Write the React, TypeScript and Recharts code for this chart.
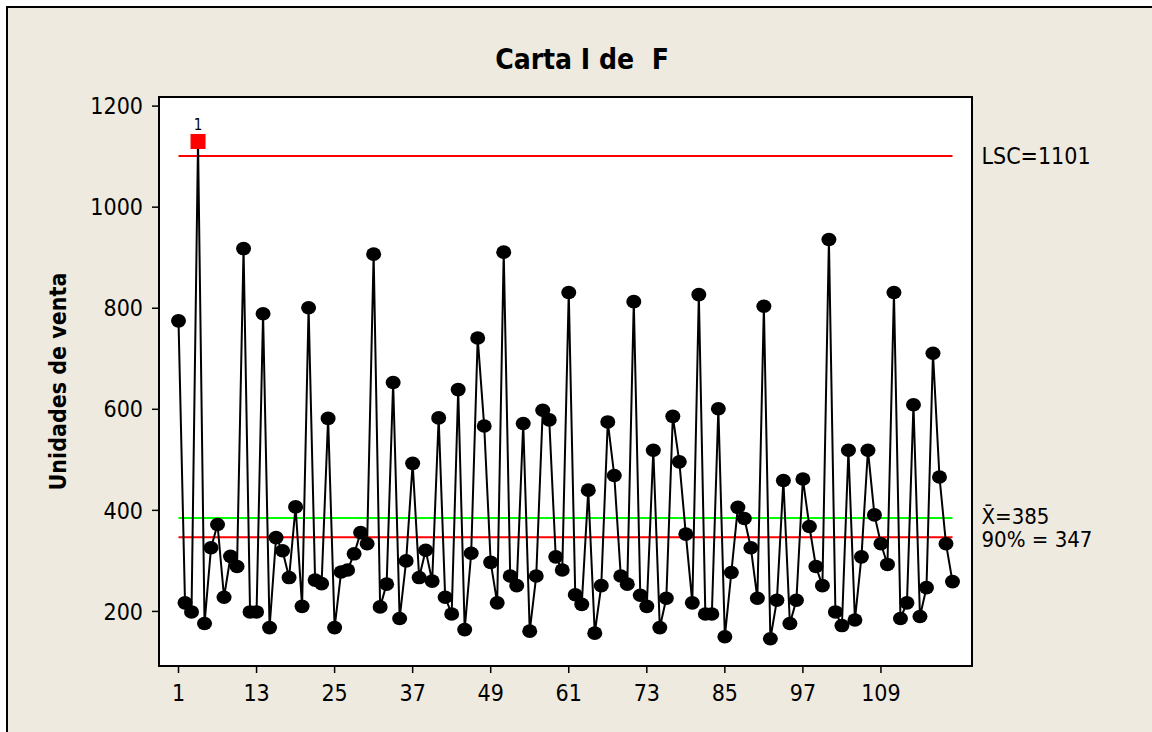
import React from 'react';
import { LineChart, Line, XAxis, YAxis, ReferenceLine } from 'recharts';

// ---- data ----
const values: number[] = [
  775, 217, 199, 1130, 176, 326, 372, 228, 309, 289,
  918, 199, 199, 789, 168, 346, 320, 267, 407, 210,
  801, 262, 255, 582, 168, 278, 282, 314, 356, 334,
  907, 209, 254, 653, 186, 300, 493, 267, 321, 260,
  583, 228, 195, 639, 164, 315, 741, 567, 297, 217,
  911, 270, 251, 572, 161, 270, 598, 579, 308, 282,
  831, 233, 214, 440, 157, 251, 575, 469, 270, 254,
  813, 232, 210, 519, 168, 226, 586, 496, 353, 217,
  827, 195, 195, 601, 150, 277, 406, 384, 326, 226,
  804, 146, 222, 459, 176, 222, 462, 368, 289, 251,
  936, 199, 172, 519, 183, 308, 519, 391, 334, 293,
  831, 186, 217, 609, 190, 247, 711, 466, 334, 259,
];
const xTicks = [1, 13, 25, 37, 49, 61, 73, 85, 97, 109];
const yTicks = [200, 400, 600, 800, 1000, 1200];
const ucl = 1101;
const mean = 385;
const p90 = 347;
const uclLabel = 'LSC=1101';
const meanLabel = 'X\u0304=385';
const p90Label = '90% = 347';
const title = 'Carta I de  F';
const yTitle = 'Unidades de venta';
const flagLabel = '1';

const data = values.map((v, i) => ({ obs: i + 1, value: v }));
const firstObs = 1;
const lastObs = values.length;

const FONT = "'DejaVu Sans Condensed', 'DejaVu Sans', sans-serif";
const BG = '#EEEADF';

const W = 1152;
const H = 732;
const PLOT_L = 159;
const PLOT_T = 97;
const PLOT_R = 972;
const PLOT_B = 666;
const Y_AXIS_W = 80;
const X_AXIS_H = 40;

const renderDot = (props: any) => {
  const { cx, cy, index, payload } = props;
  if (cx == null || cy == null) return <g key={`d-${index}`} />;
  if (payload.value > ucl) {
    return (
      <g key={`d-${index}`}>
        <rect x={cx - 7} y={cy - 7} width={14} height={14} fill="#FF0000" stroke="#FF0000" />
        <text x={cx} y={cy - 11} textAnchor="middle" fontSize={15} fontFamily={FONT} fill="#000">
          {flagLabel}
        </text>
      </g>
    );
  }
  return <ellipse key={`d-${index}`} cx={cx} cy={cy} rx={7.5} ry={6.8} fill="#000" />;
};

const sideLabel = (text: string, shift: number, size: number) => (props: any) => {
  const vb = props.viewBox || {};
  const x = (vb.x ?? 0) + (vb.width ?? 0) + 29;
  const y = (vb.y ?? 0) + (vb.height ?? 0) / 2 + shift;
  return (
    <text x={x} y={y} dy="0.36em" fontSize={size} fontFamily={FONT} fill="#000">
      {text}
    </text>
  );
};

const yAxisTitle = (props: any) => {
  const vb = props.viewBox || {};
  const x = (vb.x ?? 0) - 21;
  const y = (vb.y ?? 0) + (vb.height ?? 0) / 2;
  return (
    <text
      x={x}
      y={y}
      transform={`rotate(-90, ${x}, ${y})`}
      textAnchor="middle"
      dy="0.36em"
      fontSize={23}
      fontWeight="bold"
      fontFamily={FONT}
      fill="#000"
    >
      {yTitle}
    </text>
  );
};

export default function App() {
  return (
    <div style={{ position: 'absolute', left: 0, top: 0, width: W, height: H, overflow: 'hidden', background: '#fff' }}>
      <div
        style={{
          position: 'absolute',
          left: 6,
          top: 6,
          width: W + 20,
          height: H + 20,
          background: BG,
          borderTop: '2px solid #000',
          borderLeft: '2px solid #000',
          boxSizing: 'border-box',
        }}
      />
      <div
        style={{
          position: 'absolute',
          left: 582,
          top: 46,
          transform: 'translateX(-50%)',
          fontFamily: FONT,
          fontWeight: 'bold',
          fontSize: 28,
          lineHeight: '28px',
          whiteSpace: 'pre',
          color: '#000',
        }}
      >
        {title}
      </div>
      <div
        style={{
          position: 'absolute',
          left: PLOT_L - 1,
          top: PLOT_T - 1,
          width: PLOT_R - PLOT_L + 2,
          height: PLOT_B - PLOT_T + 2,
          background: '#fff',
          border: '2px solid #000',
          boxSizing: 'border-box',
        }}
      />
      <div style={{ position: 'absolute', left: 0, top: 0 }}>
        <LineChart
          width={W}
          height={H}
          data={data}
          margin={{ top: PLOT_T, right: W - PLOT_R, left: PLOT_L - Y_AXIS_W, bottom: H - PLOT_B - X_AXIS_H }}
          style={{ fontFamily: FONT }}
        >
          <XAxis
            dataKey="obs"
            type="number"
            domain={[-2, 123]}
            ticks={xTicks}
            interval={0}
            height={X_AXIS_H}
            axisLine={false}
            tickLine={{ stroke: '#000', strokeWidth: 1.5 }}
            tickSize={7}
            tickMargin={12}
            tick={{ fill: '#000', fontSize: 23, fontFamily: FONT }}
            allowDataOverflow
          />
          <YAxis
            type="number"
            domain={[92, 1218]}
            ticks={yTicks}
            interval={0}
            width={Y_AXIS_W}
            axisLine={false}
            tickLine={{ stroke: '#000', strokeWidth: 1.5 }}
            tickSize={7}
            tickMargin={9}
            tick={{ fill: '#000', fontSize: 23, fontFamily: FONT }}
            label={{ content: yAxisTitle }}
            allowDataOverflow
          />
          <ReferenceLine
            segment={[{ x: firstObs, y: ucl }, { x: lastObs, y: ucl }]}
            stroke="#FF0000"
            strokeWidth={2}
            label={{ content: sideLabel(uclLabel, 0, 23) }}
          />
          <ReferenceLine
            segment={[{ x: firstObs, y: mean }, { x: lastObs, y: mean }]}
            stroke="#00FF00"
            strokeWidth={2}
            label={{ content: sideLabel(meanLabel, -2, 22) }}
          />
          <ReferenceLine
            segment={[{ x: firstObs, y: p90 }, { x: lastObs, y: p90 }]}
            stroke="#FF0000"
            strokeWidth={2}
            label={{ content: sideLabel(p90Label, 2, 22) }}
          />
          <Line
            dataKey="value"
            stroke="#000"
            strokeWidth={2}
            dot={renderDot}
            activeDot={false}
            isAnimationActive={false}
          />
        </LineChart>
      </div>
    </div>
  );
}
